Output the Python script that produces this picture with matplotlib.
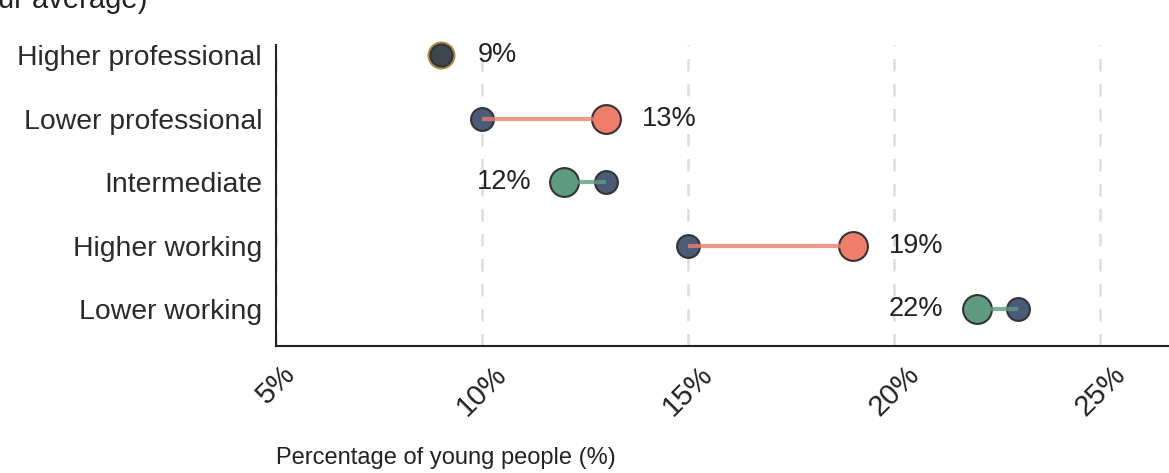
import matplotlib.pyplot as plt
from matplotlib.ticker import FuncFormatter

plt.rcParams['font.family'] = ['Liberation Sans', 'DejaVu Sans']

categories = ['Higher professional', 'Lower professional', 'Intermediate',
              'Higher working', 'Lower working']
average = [9, 10, 13, 15, 23]
current = [9, 13, 12, 19, 22]

BLUE = '#4b5a77'
RED = '#ee7e6a'
GREEN = '#5f9b7f'
EDGE = '#333333'

fig = plt.figure(figsize=(11.69, 4.73), dpi=100)
ax = fig.add_axes([276 / 1169, 1 - 346 / 473, 1 - 276 / 1169, 301 / 473])

for i, (cat, a, c) in enumerate(zip(categories, average, current)):
    if c > a:
        col = RED
    elif c < a:
        col = GREEN
    else:
        col = None

    if col is None:
        # no change: one merged marker with a thin gold ring
        ax.scatter([c], [i], s=330, color='#3e4650', edgecolors='#a88f45',
                   linewidths=2, zorder=3, clip_on=False)
        ax.scatter([c], [i], s=250, color='#3e4650', edgecolors=EDGE,
                   linewidths=1.5, zorder=4, clip_on=False)
        ax.text(c + 0.9, i, f'{c}%', ha='left', va='center', fontsize=19.5,
                color='#222222')
        continue

    ax.scatter([a], [i], s=270, color=BLUE, edgecolors=EDGE, linewidths=1.5,
               zorder=3, clip_on=False)
    ax.scatter([c], [i], s=430, color=col, edgecolors=EDGE, linewidths=1.5,
               zorder=3, clip_on=False)
    ax.plot([a, c], [i, i], color=col, lw=3, alpha=0.8, zorder=4,
            solid_capstyle='butt')
    if c > a:
        ax.text(c + 0.87, i, f'{c}%', ha='left', va='center', fontsize=19.5,
                color='#222222')
    else:
        ax.text(c - 0.8, i, f'{c}%', ha='right', va='center', fontsize=19.5,
                color='#222222')

ax.set_xlim(5, 26.67)
ax.set_ylim(4.58, -0.16)
ax.set_xticks([5, 10, 15, 20, 25])
ax.xaxis.set_major_formatter(FuncFormatter(lambda v, p: f'{v:.0f}%'))
ax.set_yticks(range(len(categories)))
ax.set_yticklabels(categories, fontsize=20.4, color='#2a2a2a')
ax.tick_params(axis='y', length=0, pad=10)
ax.tick_params(axis='x', length=0, pad=10, labelsize=21, labelcolor='#222222')
for lbl in ax.get_xticklabels():
    lbl.set_rotation(45)
    lbl.set_ha('center')

ax.grid(axis='x', linestyle=(0, (5, 5)), color='#dddddd', lw=1.8)
ax.set_axisbelow(True)
for s in ['top', 'right']:
    ax.spines[s].set_visible(False)
for s in ['left', 'bottom']:
    ax.spines[s].set_linewidth(1.5)
    ax.spines[s].set_color('#222222')

fig.text(276 / 1169, 1 - 458 / 473, 'Percentage of young people (%)',
         ha='left', va='center', fontsize=17, color='#222222')
fig.text(147 / 1169, 1 - 8 / 473, '(compared to your average)', ha='right',
         va='baseline', fontsize=21, color='#222222')

fig.savefig('out.png', dpi=100)
